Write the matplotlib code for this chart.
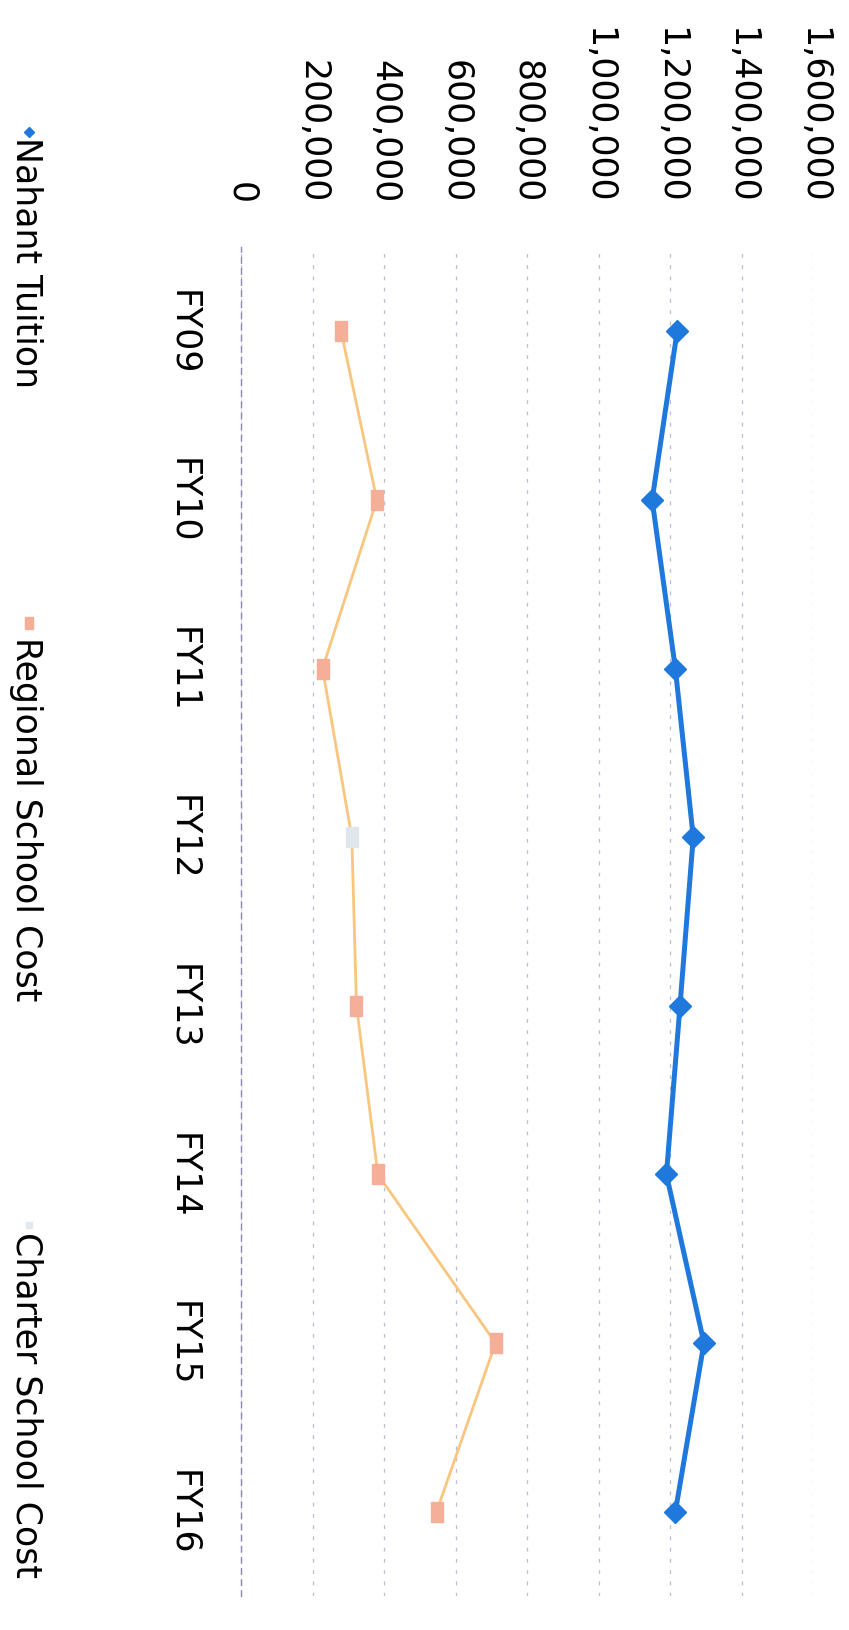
import numpy as np
import matplotlib.pyplot as plt
from matplotlib.lines import Line2D

plt.rcParams['font.family'] = ['DejaVu Sans']

years = ['FY09', 'FY10', 'FY11', 'FY12', 'FY13', 'FY14', 'FY15', 'FY16']
nahant_tuition = [1220000, 1150000, 1215000, 1265000, 1228000, 1190000, 1295000, 1215000]
regional_cost = [280000, 380000, 228000, 310000, 323000, 383000, 712000, 547000]
charter_cost = [0, 0, 0, 0, 0, 0, 0, 0]
value_ticks = [0, 200000, 400000, 600000, 800000, 1000000, 1200000, 1400000, 1600000]
series_names = ['Nahant Tuition', 'Regional School Cost', 'Charter School Cost']

W, H = 849, 1631
BLUE = '#1f78dc'
ORANGE_LINE = '#f8c67e'
ORANGE_MARK = '#f5ae98'
PALE = '#e4e8ee'
FS = 25

# the scan is turned 90 degrees clockwise: values run left->right, years top->bottom
fig = plt.figure(figsize=(W / 100, H / 100), dpi=100)
ax = fig.add_axes([241 / W, 1 - 1597 / H, 572 / W, (1597 - 248) / H])

pos = np.arange(len(years))
rect = [(-0.6, -1), (0.6, -1), (0.6, 1), (-0.6, 1), (-0.6, -1)]

ax.plot(charter_cost, pos, color=PALE, linewidth=1.5, zorder=2)
ax.plot(regional_cost, pos, color=ORANGE_LINE, linewidth=2, zorder=3,
        marker=rect, markersize=15, markerfacecolor=ORANGE_MARK,
        markeredgecolor=ORANGE_MARK, markevery=[0, 1, 2, 4, 5, 6, 7])
# FY12 marker is almost washed out in the scan
ax.plot([regional_cost[3]], [pos[3]], linestyle='none', marker=rect, markersize=15,
        markerfacecolor='#dfe6ec', markeredgecolor='#dfe6ec', zorder=3)
ax.plot(nahant_tuition, pos, color=BLUE, linewidth=3.6, marker='D', markersize=11,
        markerfacecolor=BLUE, markeredgecolor=BLUE, zorder=4)

ax.set_xlim(0, 1600000)
ax.set_ylim(len(years) - 0.5, -0.5)

ax.xaxis.tick_top()
ax.set_xticks(value_ticks)
ax.set_xticklabels([f'{v:,}' for v in value_ticks], fontsize=FS)
for lab in ax.get_xticklabels():
    lab.set_rotation(-90)
    lab.set_ha('center')
    lab.set_va('bottom')
ax.tick_params(axis='x', length=0, pad=32)

ax.set_yticks(pos)
ax.set_yticklabels(years, fontsize=FS)
for lab in ax.get_yticklabels():
    lab.set_rotation(-90)
    lab.set_ha('center')
    lab.set_va('center')
ax.tick_params(axis='y', length=0, pad=42)

ax.grid(axis='x', color='#bcbcd0', linestyle=(0, (3, 6)), linewidth=0.9)
ax.set_axisbelow(True)
for s in ['top', 'right', 'bottom']:
    ax.spines[s].set_visible(False)
ax.spines['left'].set_color('#8c88b4')
ax.spines['left'].set_linestyle((0, (4, 4)))
ax.spines['left'].set_linewidth(1.0)

# legend, drawn by hand because it is rotated with the page
legend_marks = [
    dict(marker='D', color=BLUE, ms=5, y=133),
    dict(marker=rect, color=ORANGE_MARK, ms=9, y=624),
    dict(marker='s', color=PALE, ms=5, y=1226),
]
text_top = [137, 637, 1232]
for name, mk, ty in zip(series_names, legend_marks, text_top):
    fig.add_artist(Line2D([29 / W], [1 - mk['y'] / H], marker=mk['marker'],
                          markersize=mk['ms'], color=mk['color'], linestyle='none',
                          transform=fig.transFigure))
    fig.text(26 / W, 1 - ty / H, name, rotation=-90, ha='center', va='top',
             fontsize=FS)

plt.savefig('out.png', dpi=100)
